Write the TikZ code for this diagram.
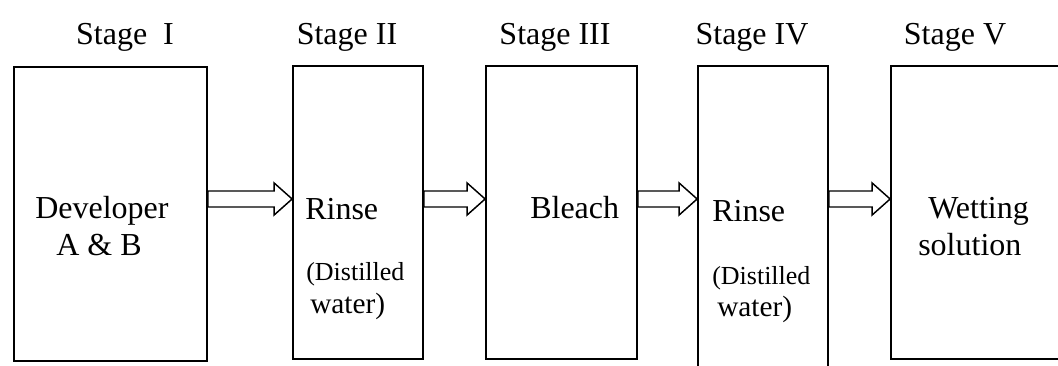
\documentclass[tikz,border=0pt]{standalone}
\usepackage{fontspec}
\setmainfont{Liberation Serif}
\usetikzlibrary{fit,calc}

\begin{document}
\begin{tikzpicture}[x=0.75pt,y=-0.75pt,
		stagebox/.style={draw, line width=1.3pt, inner sep=0pt},
		stagename/.style={anchor=base, inner sep=0pt, font=\fontsize{24pt}{28pt}\selectfont},
		txt/.style={anchor=base west, inner sep=0pt, font=\fontsize{24pt}{28pt}\selectfont},
		small/.style={anchor=base west, inner sep=0pt, font=\fontsize{19.5pt}{23pt}\selectfont},
		mid/.style={anchor=base west, inner sep=0pt, font=\fontsize{22pt}{26pt}\selectfont},
		flow/.style={draw, line width=1.1pt, to path={let \p1=(\tikztostart), \p2=(\tikztotarget) in
			(\x1,\y1+6pt) -- (\x2-13.5pt,\y1+6pt) -- (\x2-13.5pt,\y1+12pt) -- (\x2,\y1)
			-- (\x2-13.5pt,\y1-12pt) -- (\x2-13.5pt,\y1-6pt) -- (\x1,\y1-6pt) -- cycle}}]
		\useasboundingbox (0,0) rectangle (1058,366);
		
		% Les cinq bacs
		\node[stagebox, fit={(14,67) (207,361)}] (dev) {};
		\node[stagebox, fit={(293,66) (423,359)}] (rinseA) {};
		\node[stagebox, fit={(486,66) (637,359)}] (bleach) {};
		\node[stagebox, fit={(698,66) (828,380)}] (rinseB) {};
		\node[stagebox, fit={(891,66) (1075,359)}] (wet) {};
		
		% Titres
		\node[stagename] (s1) at (125,45) {Stage~~I};
		\node[stagename] (s2) at (347,45) {Stage II};
		\node[stagename] (s3) at (555,45) {Stage III};
		\node[stagename] (s4) at (752,45) {Stage IV};
		\node[stagename] (s5) at (955,45) {Stage V};
		
		% Contenu
		\node[txt] (dev1) at (35,219) {Developer};
		\node[txt] (dev2) at (56,256) {A \& B};
		\node[txt] (ra1) at (305,220) {Rinse};
		\node[small] (ra2) at (306,281) {(Distilled};
		\node[mid] (ra3) at (310,314) {water)};
		\node[txt] (bl1) at (530,219) {Bleach};
		\node[txt] (rb1) at (712,222) {Rinse};
		\node[small] (rb2) at (712,285) {(Distilled};
		\node[mid] (rb3) at (717,317) {water)};
		\node[txt] (we1) at (928,219) {Wetting};
		\node[txt] (we2) at (918,256) {solution};
		
		% Fleches
		\draw[flow] (dev.east |- 0,199) to (rinseA.west |- 0,199);
		\draw[flow] (rinseA.east |- 0,199) to (bleach.west |- 0,199);
		\draw[flow] (bleach.east |- 0,199) to (rinseB.west |- 0,199);
		\draw[flow] (rinseB.east |- 0,199) to (wet.west |- 0,199);
\end{tikzpicture}
\end{document}
